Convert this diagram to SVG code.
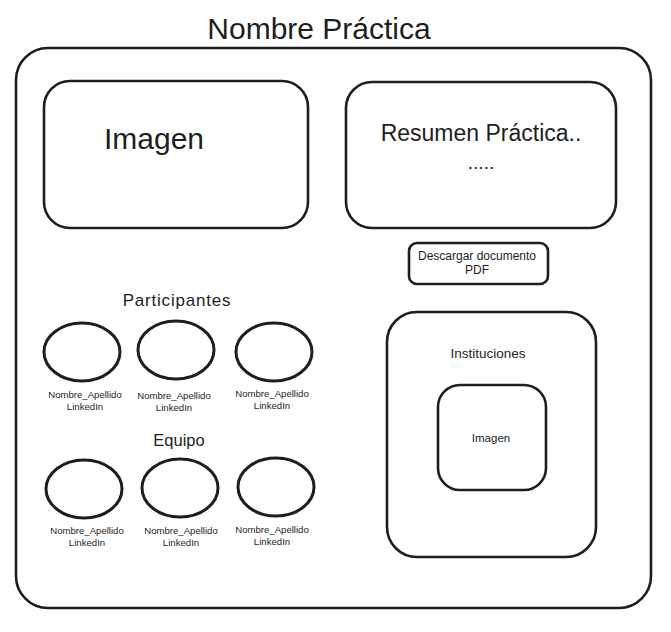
<svg xmlns="http://www.w3.org/2000/svg" width="671" height="632" viewBox="0 0 671 632">
<style>
.box{fill:none;stroke:#1e1e1e;stroke-width:2.6;stroke-linecap:round;stroke-linejoin:round}
.ov{fill:none;stroke:#1e1e1e;stroke-width:3}
text{font-family:"Liberation Sans",Arial,sans-serif;fill:#1e1e1e;text-anchor:middle;dominant-baseline:central}
.sm{font-size:9.6px}
</style>
<rect width="671" height="632" fill="#ffffff"/>
<g id="title"><text x="319" y="28" font-size="30">Nombre Práctica</text></g>
<g id="outer"><rect class="box" x="16" y="48" width="635" height="560" rx="32"/></g>
<g id="imagen"><rect class="box" x="44" y="81" width="264" height="147" rx="26"/><text x="154" y="138" font-size="30">Imagen</text></g>
<g id="resumen"><rect class="box" x="346" y="82" width="270" height="146" rx="26"/><text x="481" y="133" font-size="23">Resumen Práctica..</text><text x="481" y="162" font-size="19">.....</text></g>
<g id="descargar"><rect class="box" x="409" y="243" width="139" height="41" rx="8" stroke-width="2"/><text x="477" y="256" font-size="12">Descargar documento</text><text x="477" y="270" font-size="12">PDF</text></g>
<g id="participantes"><text x="177" y="300" font-size="17" letter-spacing="0.8">Participantes</text></g>
<g id="p1"><ellipse class="ov" cx="82" cy="352" rx="38" ry="29"/><text class="sm" x="85" y="394">Nombre_Apellido</text><text class="sm" x="85" y="406">LinkedIn</text></g>
<g id="p2"><ellipse class="ov" cx="176" cy="350" rx="38" ry="29"/><text class="sm" x="174" y="395">Nombre_Apellido</text><text class="sm" x="174" y="407">LinkedIn</text></g>
<g id="p3"><ellipse class="ov" cx="274" cy="352" rx="38" ry="29"/><text class="sm" x="272" y="393">Nombre_Apellido</text><text class="sm" x="272" y="405">LinkedIn</text></g>
<g id="equipo"><text x="179" y="440" font-size="16.5">Equipo</text></g>
<g id="e1"><ellipse class="ov" cx="84" cy="489" rx="38" ry="29"/><text class="sm" x="87" y="530">Nombre_Apellido</text><text class="sm" x="87" y="542">LinkedIn</text></g>
<g id="e2"><ellipse class="ov" cx="180" cy="488" rx="38" ry="29"/><text class="sm" x="181" y="530">Nombre_Apellido</text><text class="sm" x="181" y="542">LinkedIn</text></g>
<g id="e3"><ellipse class="ov" cx="276" cy="487" rx="38" ry="29"/><text class="sm" x="272" y="529">Nombre_Apellido</text><text class="sm" x="272" y="541">LinkedIn</text></g>
<g id="instituciones"><rect class="box" x="387" y="312" width="209" height="245" rx="30"/><text x="488" y="353" font-size="13.5">Instituciones</text></g>
<g id="inst-imagen"><rect class="box" x="438" y="385" width="108" height="105" rx="22"/><text x="491" y="438" font-size="11.5">Imagen</text></g>
<g id="connectors"></g>
</svg>
